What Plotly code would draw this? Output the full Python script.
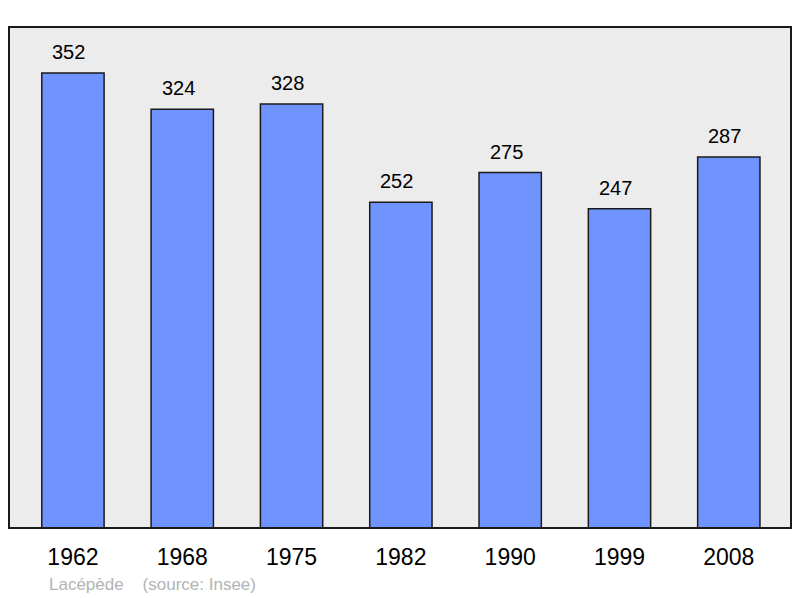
import plotly.graph_objects as go

years = ["1962", "1968", "1975", "1982", "1990", "1999", "2008"]
population = [352, 324, 328, 252, 275, 247, 287]
source_text = "Lacépède    (source: Insee)"

fig = go.Figure()
fig.add_trace(go.Bar(
    x=list(range(len(years))), y=population,
    width=0.57,
    marker=dict(color="#7094ff", line=dict(color="#1a1a1a", width=1.5)),
    hoverinfo="skip",
))

for i, v in enumerate(population):
    fig.add_annotation(x=i, y=v, text=str(v), showarrow=False, yanchor="bottom",
                       yshift=8, xshift=-4,
                       font=dict(size=20, color="black", family="Liberation Sans"))

fig.add_annotation(xref="paper", yref="paper", x=(47 - 9) / 782, y=-56 / 501,
                   xanchor="left", yanchor="middle", text=source_text, showarrow=False,
                   font=dict(size=17, color="#b3b3b3", family="Liberation Sans"))

fig.add_shape(type="rect", xref="paper", yref="paper", x0=0, y0=0, x1=1, y1=1,
              line=dict(color="#1a1a1a", width=2), layer="above")

fig.update_layout(
    width=800, height=598,
    margin=dict(l=9, r=9, t=27, b=70),
    paper_bgcolor="white", plot_bgcolor="#ececec",
    showlegend=False,
    font=dict(family="Liberation Sans"),
    xaxis=dict(range=[-0.585, 6.569], tickvals=list(range(len(years))), ticktext=years,
               showgrid=False, zeroline=False, ticks="outside", ticklen=8,
               tickcolor="rgba(0,0,0,0)", tickfont=dict(size=23, color="black")),
    yaxis=dict(range=[0, 387.6], showgrid=False, zeroline=False, showticklabels=False),
)

fig.write_html("out.html", config={"displayModeBar": False},
               post_script="document.body.style.margin='0';document.body.style.overflow='hidden';")
